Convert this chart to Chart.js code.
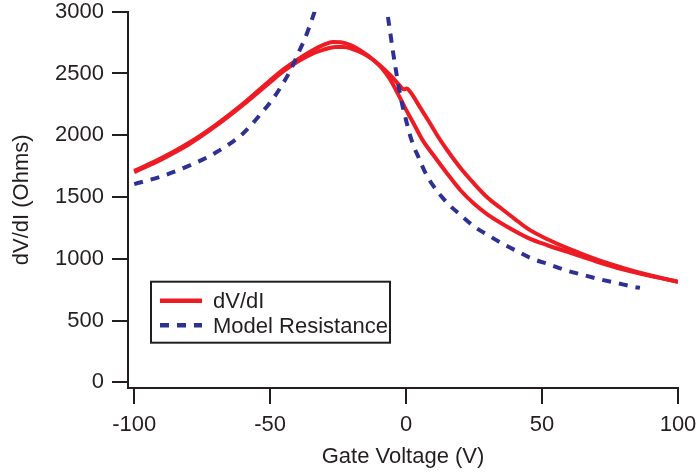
<!DOCTYPE html>
<html>
<head>
<meta charset="utf-8">
<script src="https://cdn.jsdelivr.net/npm/chart.js@4/dist/chart.umd.min.js"></script>
<style>
  html, body { margin: 0; padding: 0; background: #ffffff; }
  canvas { display: block; }
</style>
</head>
<body>
<canvas id="chart" width="696" height="472"></canvas>
<script>
// Gate sweep up (-100 V -> 100 V): measured differential resistance
const gateUp = [-100, -90, -80, -70, -60, -50, -45, -40, -35, -30, -27, -24, -20, -16, -12, -9, -6, -3, 0, 3, 6, 10, 15, 20, 25, 30, 37, 45, 52, 60, 70, 80, 90, 100];
const dvdiUp = [1712, 1815, 1937, 2085, 2255, 2445, 2535, 2612, 2680, 2735, 2755, 2752, 2725, 2675, 2610, 2545, 2455, 2335, 2205, 2085, 1963, 1840, 1693, 1555, 1445, 1358, 1262, 1168, 1110, 1052, 978, 913, 860, 815];

// Gate sweep back down (100 V -> -100 V)
const gateDown = [100, 90, 80, 70, 60, 52, 45, 40, 35, 30, 25, 20, 15, 12, 8, 5, 1.5, 0.2, -0.8, -3, -6, -9.6, -13, -16, -20, -23, -26, -30, -35, -40, -45, -50, -60, -70, -80, -90, -100];
const dvdiDown = [815, 865, 925, 995, 1080, 1158, 1240, 1322, 1407, 1494, 1608, 1735, 1883, 1980, 2125, 2230, 2352, 2378, 2372, 2418, 2490, 2565, 2625, 2665, 2700, 2715, 2715, 2695, 2655, 2595, 2520, 2430, 2245, 2075, 1925, 1805, 1702];

// Model resistance, hole side of the charge-neutrality point
const gateModelHole = [-100, -90, -80, -70, -60, -53, -49, -45, -42, -39.6, -37, -34.7, -33, -32];
const modelHole = [1605, 1667, 1752, 1860, 2015, 2185, 2295, 2430, 2550, 2667, 2795, 2934, 3045, 3120];

// Model resistance, electron side
const gateModelElec = [-7.5, -6.8, -5.9, -5.0, -4.0, -2.8, -1.6, 0, 1.5, 3, 4.5, 7, 10, 15, 20, 25, 31, 35, 41, 46, 53, 59, 65, 71, 77.5, 84, 86];
const modelElec = [3095, 2975, 2840, 2700, 2560, 2400, 2265, 2120, 1995, 1900, 1825, 1700, 1590, 1455, 1355, 1262, 1180, 1128, 1060, 1005, 952, 906, 870, 836, 804, 772, 765];

// Axis ticks
const xTicks = [-100, -50, 0, 50, 100];
const yTicks = [0, 500, 1000, 1500, 2000, 2500, 3000];

const INK = '#231f20';
const RED = '#ed1c24';
const BLUE = '#2e3192';
const FONT = '"Liberation Sans", Arial, Helvetica, sans-serif';

const pts = (xs, ys) => xs.map((x, i) => ({ x: x, y: ys[i] }));

// Framed legend drawn inside the plot area, one entry per label
const boxLegend = {
  id: 'boxLegend',
  afterDatasetsDraw(chart) {
    const ctx = chart.ctx;
    const area = chart.chartArea;
    const seen = new Set();
    const items = [];
    chart.data.datasets.forEach(ds => {
      if (!seen.has(ds.label)) { seen.add(ds.label); items.push(ds); }
    });
    const bx = area.left + 23, by = area.top + 270, bw = 239, bh = 61;
    ctx.save();
    ctx.fillStyle = '#ffffff';
    ctx.fillRect(bx, by, bw, bh);
    ctx.strokeStyle = INK;
    ctx.lineWidth = 2;
    ctx.strokeRect(bx, by, bw, bh);
    items.forEach((ds, i) => {
      const y = by + 19 + i * 24.5;
      ctx.beginPath();
      ctx.strokeStyle = ds.borderColor;
      ctx.lineWidth = ds.borderWidth + 0.5;
      ctx.lineCap = 'butt';
      ctx.setLineDash(ds.borderDash || []);
      ctx.moveTo(bx + 9, y);
      ctx.lineTo(bx + 51, y);
      ctx.stroke();
      ctx.setLineDash([]);
      ctx.fillStyle = INK;
      ctx.font = '22px ' + FONT;
      ctx.textBaseline = 'alphabetic';
      ctx.textAlign = 'left';
      ctx.fillText(ds.label, bx + 62, y + 7.5);
    });
    ctx.restore();
  }
};

const lineStyle = {
  showLine: true,
  pointRadius: 0,
  pointHoverRadius: 0,
  fill: false,
  cubicInterpolationMode: 'monotone',
  clip: 0
};

new Chart(document.getElementById('chart'), {
  type: 'scatter',
  data: {
    datasets: [
      Object.assign({ label: 'dV/dI', data: pts(gateUp, dvdiUp), borderColor: RED, borderWidth: 4, order: 2 }, lineStyle),
      Object.assign({ label: 'dV/dI', data: pts(gateDown, dvdiDown), borderColor: RED, borderWidth: 4, order: 2 }, lineStyle),
      Object.assign({ label: 'Model Resistance', data: pts(gateModelHole, modelHole), borderColor: BLUE, borderWidth: 4, borderDash: [9, 8], order: 1 }, lineStyle),
      Object.assign({ label: 'Model Resistance', data: pts(gateModelElec, modelElec), borderColor: BLUE, borderWidth: 4, borderDash: [9, 8], order: 1 }, lineStyle)
    ]
  },
  options: {
    responsive: false,
    animation: false,
    devicePixelRatio: 1,
    layout: { padding: { left: 0, right: 18, top: 11.7, bottom: 0 } },
    plugins: {
      legend: { display: false },
      tooltip: { enabled: false }
    },
    scales: {
      x: {
        type: 'linear',
        min: -102.3,
        max: 100,
        afterBuildTicks: s => { s.ticks = xTicks.map(v => ({ value: v })); },
        afterFit: s => { s.height = 84; s.paddingLeft = 0; s.paddingRight = 0; },
        grid: { drawOnChartArea: false, drawTicks: true, tickLength: 16, color: INK, lineWidth: 2 },
        border: { display: true, color: INK, width: 2 },
        ticks: {
          autoSkip: false, maxRotation: 0, padding: 10, color: INK,
          font: { family: FONT, size: 22, lineHeight: 1 },
          callback: v => String(v)
        },
        title: {
          display: true, text: 'Gate Voltage (V)', color: INK,
          font: { family: FONT, size: 22, lineHeight: 1.2 },
          padding: { top: 0, bottom: 2 }
        }
      },
      y: {
        type: 'linear',
        min: -45.3,
        max: 3000,
        afterBuildTicks: s => { s.ticks = yTicks.map(v => ({ value: v })); },
        afterFit: s => { s.width = 128; s.paddingTop = 0; s.paddingBottom = 0; },
        grid: { drawOnChartArea: false, drawTicks: true, tickLength: 16, color: INK, lineWidth: 2 },
        border: { display: true, color: INK, width: 2 },
        ticks: {
          autoSkip: false, padding: 8, color: INK,
          font: { family: FONT, size: 22, lineHeight: 1 },
          callback: v => String(v)
        },
        title: {
          display: true, text: 'dV/dI (Ohms)', color: INK,
          font: { family: FONT, size: 22, lineHeight: 1.2 },
          padding: { top: 9, bottom: 0 }
        }
      }
    }
  },
  plugins: [boxLegend]
});
</script>
</body>
</html>
